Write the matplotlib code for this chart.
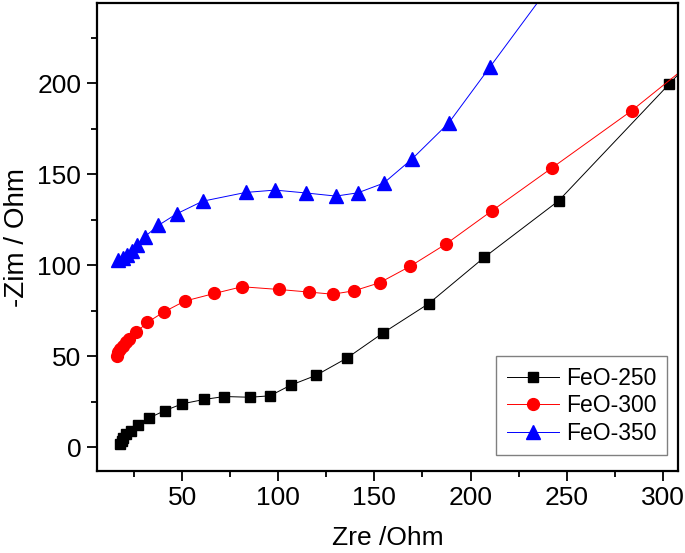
import matplotlib
matplotlib.use("Agg")
import matplotlib.pyplot as plt
from matplotlib.ticker import MultipleLocator

plt.rcParams['font.family'] = ['Liberation Sans', 'DejaVu Sans']

# FeO-250
x250 = [17.7, 18.5, 19.4, 20.8, 23.2, 27.2, 32.9, 41.1, 50.1, 61.5, 71.9, 85.4, 95.7,
        106.4, 119.6, 135.7, 154.6, 178.2, 207.1, 245.8, 303.3, 330.0]
y250 = [2.0, 3.8, 5.3, 7.5, 9.3, 12.1, 16.3, 20.3, 24.0, 26.4, 28.0, 27.6, 28.4,
        34.2, 39.6, 49.1, 63.0, 79.0, 104.4, 135.5, 199.6, 229.5]

# FeO-300
x300 = [16.0, 16.8, 17.7, 19.1, 20.8, 22.5, 26.0, 31.9, 40.4, 51.3, 66.7, 81.1, 100.4,
        115.8, 128.3, 139.5, 152.7, 168.7, 187.4, 211.1, 242.5, 283.8, 325.0]
y300 = [50.5, 52.4, 54.2, 56.0, 57.9, 59.7, 63.2, 68.7, 74.4, 80.4, 84.6, 88.3, 86.8,
        85.4, 84.2, 86.1, 90.5, 99.6, 111.9, 130.0, 153.7, 185.0, 220.0]

# FeO-350
x350 = [16.8, 19.4, 21.5, 23.8, 26.4, 30.7, 37.6, 47.2, 60.7, 83.0, 98.3, 114.6,
        130.0, 141.4, 154.8, 169.7, 188.6, 210.1, 250.0]
y350 = [103.1, 104.2, 106.0, 107.9, 111.0, 115.9, 122.0, 128.4, 135.3, 140.1, 141.4, 139.8,
        138.1, 139.9, 145.2, 158.6, 178.2, 209.0, 266.0]

fig = plt.figure(figsize=(6.85, 5.53), dpi=100)
ax = fig.add_axes([0.141, 0.148, 0.849, 0.846])

ax.plot(x250, y250, color='black', marker='s', markersize=7.5, linewidth=0.7, label='FeO-250')
ax.plot(x300, y300, color='red', marker='o', markersize=8.5, linewidth=0.7, label='FeO-300')
ax.plot(x350, y350, color='blue', marker='^', markersize=9.5, linewidth=0.7, label='FeO-350')

ax.set_xlim(5.5, 308)
ax.set_ylim(-13, 244)
ax.xaxis.set_major_locator(MultipleLocator(50))
ax.xaxis.set_minor_locator(MultipleLocator(25))
ax.yaxis.set_major_locator(MultipleLocator(50))
ax.yaxis.set_minor_locator(MultipleLocator(25))
ax.tick_params(which='major', direction='out', length=7, width=1.3, labelsize=19, pad=4)
ax.tick_params(which='minor', direction='out', length=4, width=1.3)
for sp in ax.spines.values():
    sp.set_linewidth(1.6)

ax.set_xlabel('Zre /Ohm', fontsize=19, labelpad=11)
ax.set_ylabel('-Zim / Ohm', fontsize=20, labelpad=5)

leg = ax.legend(loc='lower right', bbox_to_anchor=(0.981, 0.034), borderaxespad=0,
                fontsize=16.5, fancybox=False, framealpha=1, edgecolor='gray',
                handlelength=2.3, handletextpad=0.3, labelspacing=0.2, borderpad=0.45)
leg.get_frame().set_linewidth(1.0)

fig.savefig('out.png', dpi=100)
